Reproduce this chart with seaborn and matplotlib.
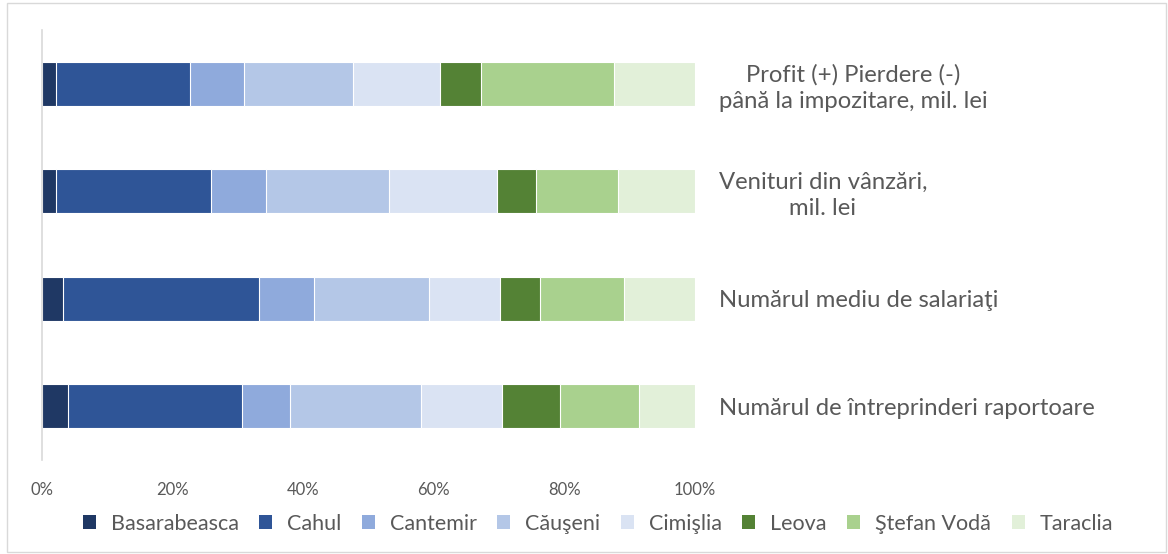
"""
plot.py

100% stacked horizontal bars: share of each district (Basarabeasca ... Taraclia)
in four economic indicators. Stacking is done by overlaying cumulative bars.
"""

import numpy as np
import pandas as pd
import matplotlib
matplotlib.use("Agg")
import matplotlib.pyplot as plt
from matplotlib.patches import Patch, Rectangle
import seaborn as sns

#data (percent of total)
categories = [
    "Profit (+) Pierdere (-)\npână la impozitare, mil. lei",
    "Venituri din vânzări,\nmil. lei",
    "Numărul mediu de salariaţi",
    "Numărul de întreprinderi raportoare",
]
districts = ["Basarabeasca", "Cahul", "Cantemir", "Căuşeni",
             "Cimişlia", "Leova", "Ştefan Vodă", "Taraclia"]

basarabeasca = [2.1, 2.1, 3.2, 4.0]
cahul        = [20.5, 23.8, 30.1, 26.7]
cantemir     = [8.4, 8.4, 8.3, 7.3]
causeni      = [16.6, 18.9, 17.6, 20.0]
cimislia     = [13.4, 16.5, 11.0, 12.4]
leova        = [6.3, 5.9, 6.1, 8.9]
stefan_voda  = [20.3, 12.6, 12.8, 12.2]
taraclia     = [12.4, 11.8, 10.9, 8.5]

colors = ["#1F3864", "#2F5597", "#8FAADC", "#B4C7E7",
          "#DAE3F3", "#548235", "#A9D18E", "#E2F0D9"]

TEXT = "#595959"


def build_frame():
    df = pd.DataFrame(
        [basarabeasca, cahul, cantemir, causeni, cimislia, leova, stefan_voda, taraclia],
        index=districts, columns=categories,
    ).T
    df = df.div(df.sum(axis=1), axis=0) * 100     #normalise to 100%
    return df.cumsum(axis=1)


def main():
    sns.set_theme(style="white")
    plt.rcParams["font.family"] = ["Lato", "DejaVu Sans"]

    cum = build_frame()
    fig = plt.figure(figsize=(11.68, 5.54), dpi=100)
    ax = fig.add_axes([0.036, 0.170, 0.559, 0.776])

    #draw from the largest cumulative value down so each segment shows
    for name, col in reversed(list(zip(districts, colors))):
        d = pd.DataFrame({"cat": categories, "val": cum[name].values})
        sns.barplot(data=d, x="val", y="cat", order=categories, orient="h",
                    color=col, width=0.41, edgecolor="white", linewidth=0.8,
                    saturation=1, ax=ax)

    ax.set_xlim(0, 100)
    ax.set_xticks(np.arange(0, 101, 20))
    ax.set_xticklabels([f"{v}%" for v in range(0, 101, 20)])
    ax.tick_params(axis="x", length=0, pad=16, labelsize=12, labelcolor=TEXT)
    ax.set_xlabel("")
    ax.set_ylabel("")

    #category labels sit on the right of the bars
    ax.yaxis.tick_right()
    ax.tick_params(axis="y", length=0, pad=17, labelsize=17.2, labelcolor=TEXT)
    for lbl in ax.get_yticklabels():
        lbl.set_multialignment("center")
        lbl.set_linespacing(1.3)

    for s in ["top", "right", "bottom"]:
        ax.spines[s].set_visible(False)
    ax.spines["left"].set_color("#D9D9D9")
    ax.spines["left"].set_linewidth(1.2)

    handles = [Patch(facecolor=c, edgecolor="none", label=n) for n, c in zip(districts, colors)]
    fig.legend(handles=handles, loc="center", bbox_to_anchor=(0.512, 0.055), ncol=8,
               frameon=False, fontsize=15.5, labelcolor=TEXT, handlelength=0.6,
               handleheight=0.6, handletextpad=0.7, columnspacing=0.95)

    #light chart frame
    fig.patches.append(Rectangle((0.006, 0.004), 0.992, 0.99, transform=fig.transFigure,
                                 fill=False, edgecolor="#D9D9D9", linewidth=1))

    fig.savefig("out.png", dpi=100)
    plt.close(fig)


if __name__ == "__main__":
    main()
